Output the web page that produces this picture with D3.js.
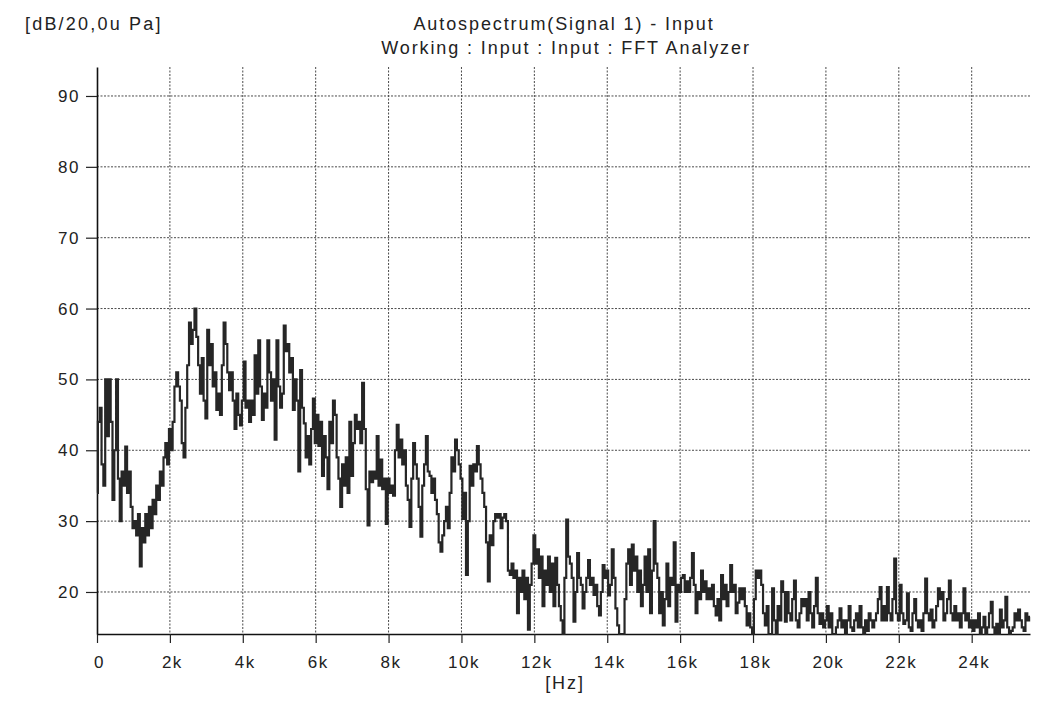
<!DOCTYPE html>
<head>
  <meta charset="utf-8">
  <script src="https://d3js.org/d3.v7.min.js"></script>
  <style>
    body { margin:0; background:#fff; }
    text { font-family: "Liberation Sans", Arial, sans-serif; fill:#222; }
    .grid line { stroke:#4a4a4a; stroke-width:1; stroke-dasharray:2,1.5; }
  </style>
</head>

<body>
  <script>
    // spectrum levels in dB, one value every 50 Hz in 3.2 kHz bands
    var step = 50;
    var band0 = [34, 44, 46, 38, 35, 50, 42, 50,
                 44, 33, 40, 50, 36, 30, 37, 35,
                 40.5, 34, 37, 32, 29, 30, 28, 31,
                 23.6, 29, 27, 31, 28, 32, 29, 33,
                 31, 35, 33, 37, 35, 39, 41, 38,
                 43, 40, 44, 49, 51, 49, 47, 41,
                 39, 46, 52, 58, 55, 57, 60, 56,
                 52, 48, 53, 47, 44.5, 57, 52, 55];
    var band1 = [49, 51, 45.7, 48, 45, 52, 58, 55,
                 51, 48.5, 51, 47, 43, 48, 45, 43.5,
                 47, 52.5, 46, 47, 44, 47, 45, 53.4,
                 48, 55.5, 49, 44.3, 48, 46, 55.5, 51,
                 47, 50, 41.5, 55.5, 49, 46, 48, 57.6,
                 54, 55, 51, 53, 45.7, 50, 47, 37,
                 51.3, 46, 43.8, 39, 42, 38, 43, 47.3,
                 41, 45, 40.6, 44, 36.4, 42, 39, 34.5];
    var band2 = [44, 41, 47, 45, 39, 36, 32, 38,
                 35, 39, 34, 44, 36.4, 41, 45, 43,
                 44, 41, 49.5, 43, 34.5, 29.4, 37, 35.5,
                 37, 36, 42, 35, 38.7, 34.5, 36, 29.6,
                 36, 34, 35, 33.6, 40, 43.6, 39, 41.5,
                 38, 40, 35, 33, 29.2, 36, 41, 38,
                 36, 32, 27.8, 35, 38, 42, 37, 36.4,
                 34, 36, 33, 31, 27, 25.7, 28, 30];
    var band3 = [32, 29, 34, 39, 37, 41.5, 40, 38,
                 36, 30.3, 34, 22.4, 30, 37.8, 35, 38,
                 37, 40.6, 38, 36, 34, 32, 27, 21.5,
                 28, 26.6, 30, 31, 30.5, 31, 29, 30.5,
                 31, 30, 23, 22.4, 24, 22, 23, 17,
                 22, 20, 23, 19, 22, 14.7, 21, 24,
                 28, 24, 26, 22, 25, 18, 23, 21,
                 25, 20, 24, 18, 24.8, 21, 18, 16];
    var band4 = [14, 22, 30.2, 25, 24, 22, 15.8, 20,
                 25.5, 22, 21, 17.7, 20, 22, 24.5, 21,
                 22, 19.6, 21, 18, 16.7, 20, 23.8, 22,
                 23, 19.5, 21, 26, 22, 17.7, 15.3, 14,
                 13, 13.5, 19, 24, 26, 21, 26.7, 23,
                 25, 20, 23, 18, 21, 25, 20, 26,
                 17, 23, 30, 24, 22, 17, 20, 15.3,
                 19, 24, 18, 22, 21, 27, 15.8, 21];
    var band5 = [20, 22, 22.4, 20, 21.5, 20, 22, 25.5,
                 21, 17, 20, 19, 23, 20, 21.5, 19,
                 20.5, 19, 21, 18, 16.7, 19, 16, 22.4,
                 19, 21, 18, 20, 23.8, 20, 21, 17,
                 18.5, 20.5, 19, 20.5, 18, 15.3, 17, 15,
                 13, 19, 23, 22, 23, 21, 17, 15.3,
                 18, 13, 14, 20.5, 16, 13, 18, 16,
                 21.5, 20, 15.8, 20, 17, 16, 19, 21.6];
    var band6 = [16, 15, 17, 19, 18, 19, 16, 20,
                 17, 15, 18, 22, 17, 15.5, 17, 15,
                 16, 18, 15, 17, 14, 13.5, 15, 16,
                 17.7, 15, 16, 14, 16, 18, 15, 14.5,
                 16, 17, 15, 18, 15, 14, 16, 14.5,
                 17, 16, 15, 16, 17, 19, 20.7, 16,
                 18, 16, 20.7, 17, 16, 19, 24.7, 17,
                 16, 21, 17, 15.5, 16, 19.8, 15, 14.5];
    var band7 = [17, 19, 16, 15, 16, 14.5, 17, 21.9,
                 17, 16, 17.5, 15, 16, 18, 20.5, 19,
                 20, 16, 17, 19, 21.6, 17, 16, 18,
                 16, 17, 15, 17, 20.5, 16, 17, 15,
                 16, 14.5, 16, 15, 17, 14, 15, 16.5,
                 14, 15, 17, 18.6, 15, 14, 15.5, 14,
                 17.5, 15, 16, 19.3, 15, 14, 14.5, 15,
                 17, 16, 17.5, 16, 15, 14.5, 17, 16,
                 16.5];

    var xTicks = [0, 2000, 4000, 6000, 8000, 10000, 12000, 14000, 16000, 18000, 20000, 22000, 24000];
    var xTickLabels = ["0", "2k", "4k", "6k", "8k", "10k", "12k", "14k", "16k", "18k", "20k", "22k", "24k"];
    var yTicks = [20, 30, 40, 50, 60, 70, 80, 90];

    var levels = [].concat(band0, band1, band2, band3, band4, band5, band6, band7);
    var data = levels.map(function(v, i) { return {f: i * step, db: v}; });

    var width = 1059, height = 706;
    // plot frame (note: "top" is taken by window.top, so keep these names)
    var plotLeft = 97, plotRight = 1030, plotTop = 67, plotBottom = 634;

    var svg = d3.select("body").append("svg")
      .attr("width", width)
      .attr("height", height);

    var x = d3.scaleLinear().domain([0, 25600]).range([plotLeft, plotRight]);
    var y = d3.scaleLinear().domain([14.07, 94.09]).range([plotBottom, plotTop]).clamp(true);

    // dotted grid
    var grid = svg.append("g").attr("class", "grid");
    grid.selectAll(".h").data(yTicks).enter().append("line")
      .attr("x1", plotLeft).attr("x2", plotRight)
      .attr("y1", function(d) { return y(d); })
      .attr("y2", function(d) { return y(d); });
    grid.selectAll(".v").data(xTicks.slice(1)).enter().append("line")
      .attr("y1", plotTop).attr("y2", plotBottom)
      .attr("x1", function(d) { return x(d); })
      .attr("x2", function(d) { return x(d); });

    // axes
    var xAxis = d3.axisBottom(x)
      .tickValues(xTicks)
      .tickFormat(function(d, i) { return xTickLabels[i]; })
      .tickSize(9)
      .tickPadding(13)
      .tickSizeOuter(0);
    var yAxis = d3.axisLeft(y)
      .tickValues(yTicks)
      .tickSize(11)
      .tickPadding(6)
      .tickSizeOuter(0);

    var gx = svg.append("g")
      .attr("transform", "translate(0," + plotBottom + ")")
      .call(xAxis);
    var gy = svg.append("g")
      .attr("transform", "translate(" + plotLeft + ",0)")
      .call(yAxis);

    [gx, gy].forEach(function(g) {
      g.select(".domain").attr("stroke", "#111").attr("stroke-width", 1.6);
      g.selectAll(".tick line").attr("stroke", "#222").attr("stroke-width", 1.2);
      g.selectAll(".tick text")
        .attr("fill", "#222")
        .style("font-size", "17px")
        .style("letter-spacing", "1.5px")
        .style("font-family", "'Liberation Sans', Arial, sans-serif");
    });
    gx.selectAll(".tick text").attr("dx", "2");

    // the spectrum trace, drawn as FFT lines (steps)
    var line = d3.line()
      .curve(d3.curveStep)
      .x(function(d) { return x(d.f); })
      .y(function(d) { return y(d.db); });

    svg.append("path")
      .datum(data)
      .attr("fill", "none")
      .attr("stroke", "#262626")
      .attr("stroke-width", 2.2)
      .attr("stroke-linejoin", "miter")
      .attr("d", line);

    // titles and units
    svg.append("text")
      .attr("x", 25).attr("y", 30)
      .style("font-size", "18px").style("letter-spacing", "2.2px")
      .text("[dB/20,0u Pa]");
    svg.append("text")
      .attr("x", 564).attr("y", 30)
      .attr("text-anchor", "middle")
      .style("font-size", "18px").style("letter-spacing", "1.9px")
      .text("Autospectrum(Signal 1) - Input");
    svg.append("text")
      .attr("x", 566).attr("y", 54)
      .attr("text-anchor", "middle")
      .style("font-size", "18px").style("letter-spacing", "1.9px")
      .text("Working : Input : Input : FFT Analyzer");
    svg.append("text")
      .attr("x", 565).attr("y", 689)
      .attr("text-anchor", "middle")
      .style("font-size", "18px").style("letter-spacing", "1.9px")
      .text("[Hz]");
  </script>
</body>
